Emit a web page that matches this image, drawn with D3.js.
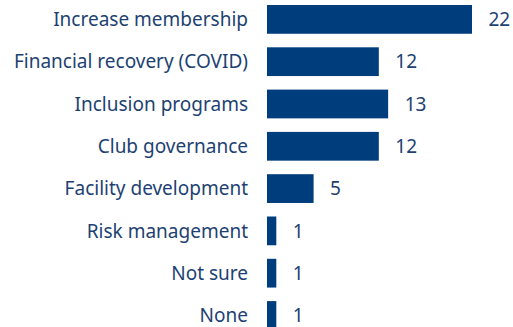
<!DOCTYPE html>
<html><head><meta charset="utf-8">
<script src="https://cdn.jsdelivr.net/npm/d3@7"></script>
<style>body{margin:0;background:#fff}svg{display:block}</style>
</head><body>
<script>
const categories = ["Increase membership","Financial recovery (COVID)","Inclusion programs","Club governance","Facility development","Risk management","Not sure","None"];
const values = [22,12,13,12,5,1,1,1];

const W = 513, H = 327;
const svg = d3.select("body").append("svg").attr("width", W).attr("height", H);
const step = 42.3;
const x = d3.scaleLinear().domain([0, 22]).range([267, 472]);
const y = d3.scaleBand().domain(categories)
  .range([5 - 0.16 * step, 5 - 0.16 * step + categories.length * step])
  .paddingInner(0.32).paddingOuter(0.16);

const barColor = "#003d7c", textColor = "#1d4272";
const font = "'Noto Sans', sans-serif";
const fs = 19;

svg.selectAll("rect.bar").data(values).join("rect").attr("class","bar")
  .attr("x", x(0)).attr("y", (d,i)=>y(categories[i]))
  .attr("width", d=>x(d)-x(0)).attr("height", y.bandwidth())
  .attr("fill", barColor);

svg.selectAll("text.cat").data(categories).join("text").attr("class","cat")
  .attr("x", 248).attr("y", d=>y(d)+y.bandwidth()/2 + 6.8)
  .attr("text-anchor","end").attr("font-family", font).attr("font-size", fs)
  .attr("fill", textColor).text(d=>d);

svg.selectAll("text.val").data(values).join("text").attr("class","val")
  .attr("x", d=>x(d)+16.5).attr("y", (d,i)=>y(categories[i])+y.bandwidth()/2 + 6.8)
  .attr("font-family", font).attr("font-size", fs)
  .attr("fill", textColor).text(d=>d);
</script>
</body></html>
